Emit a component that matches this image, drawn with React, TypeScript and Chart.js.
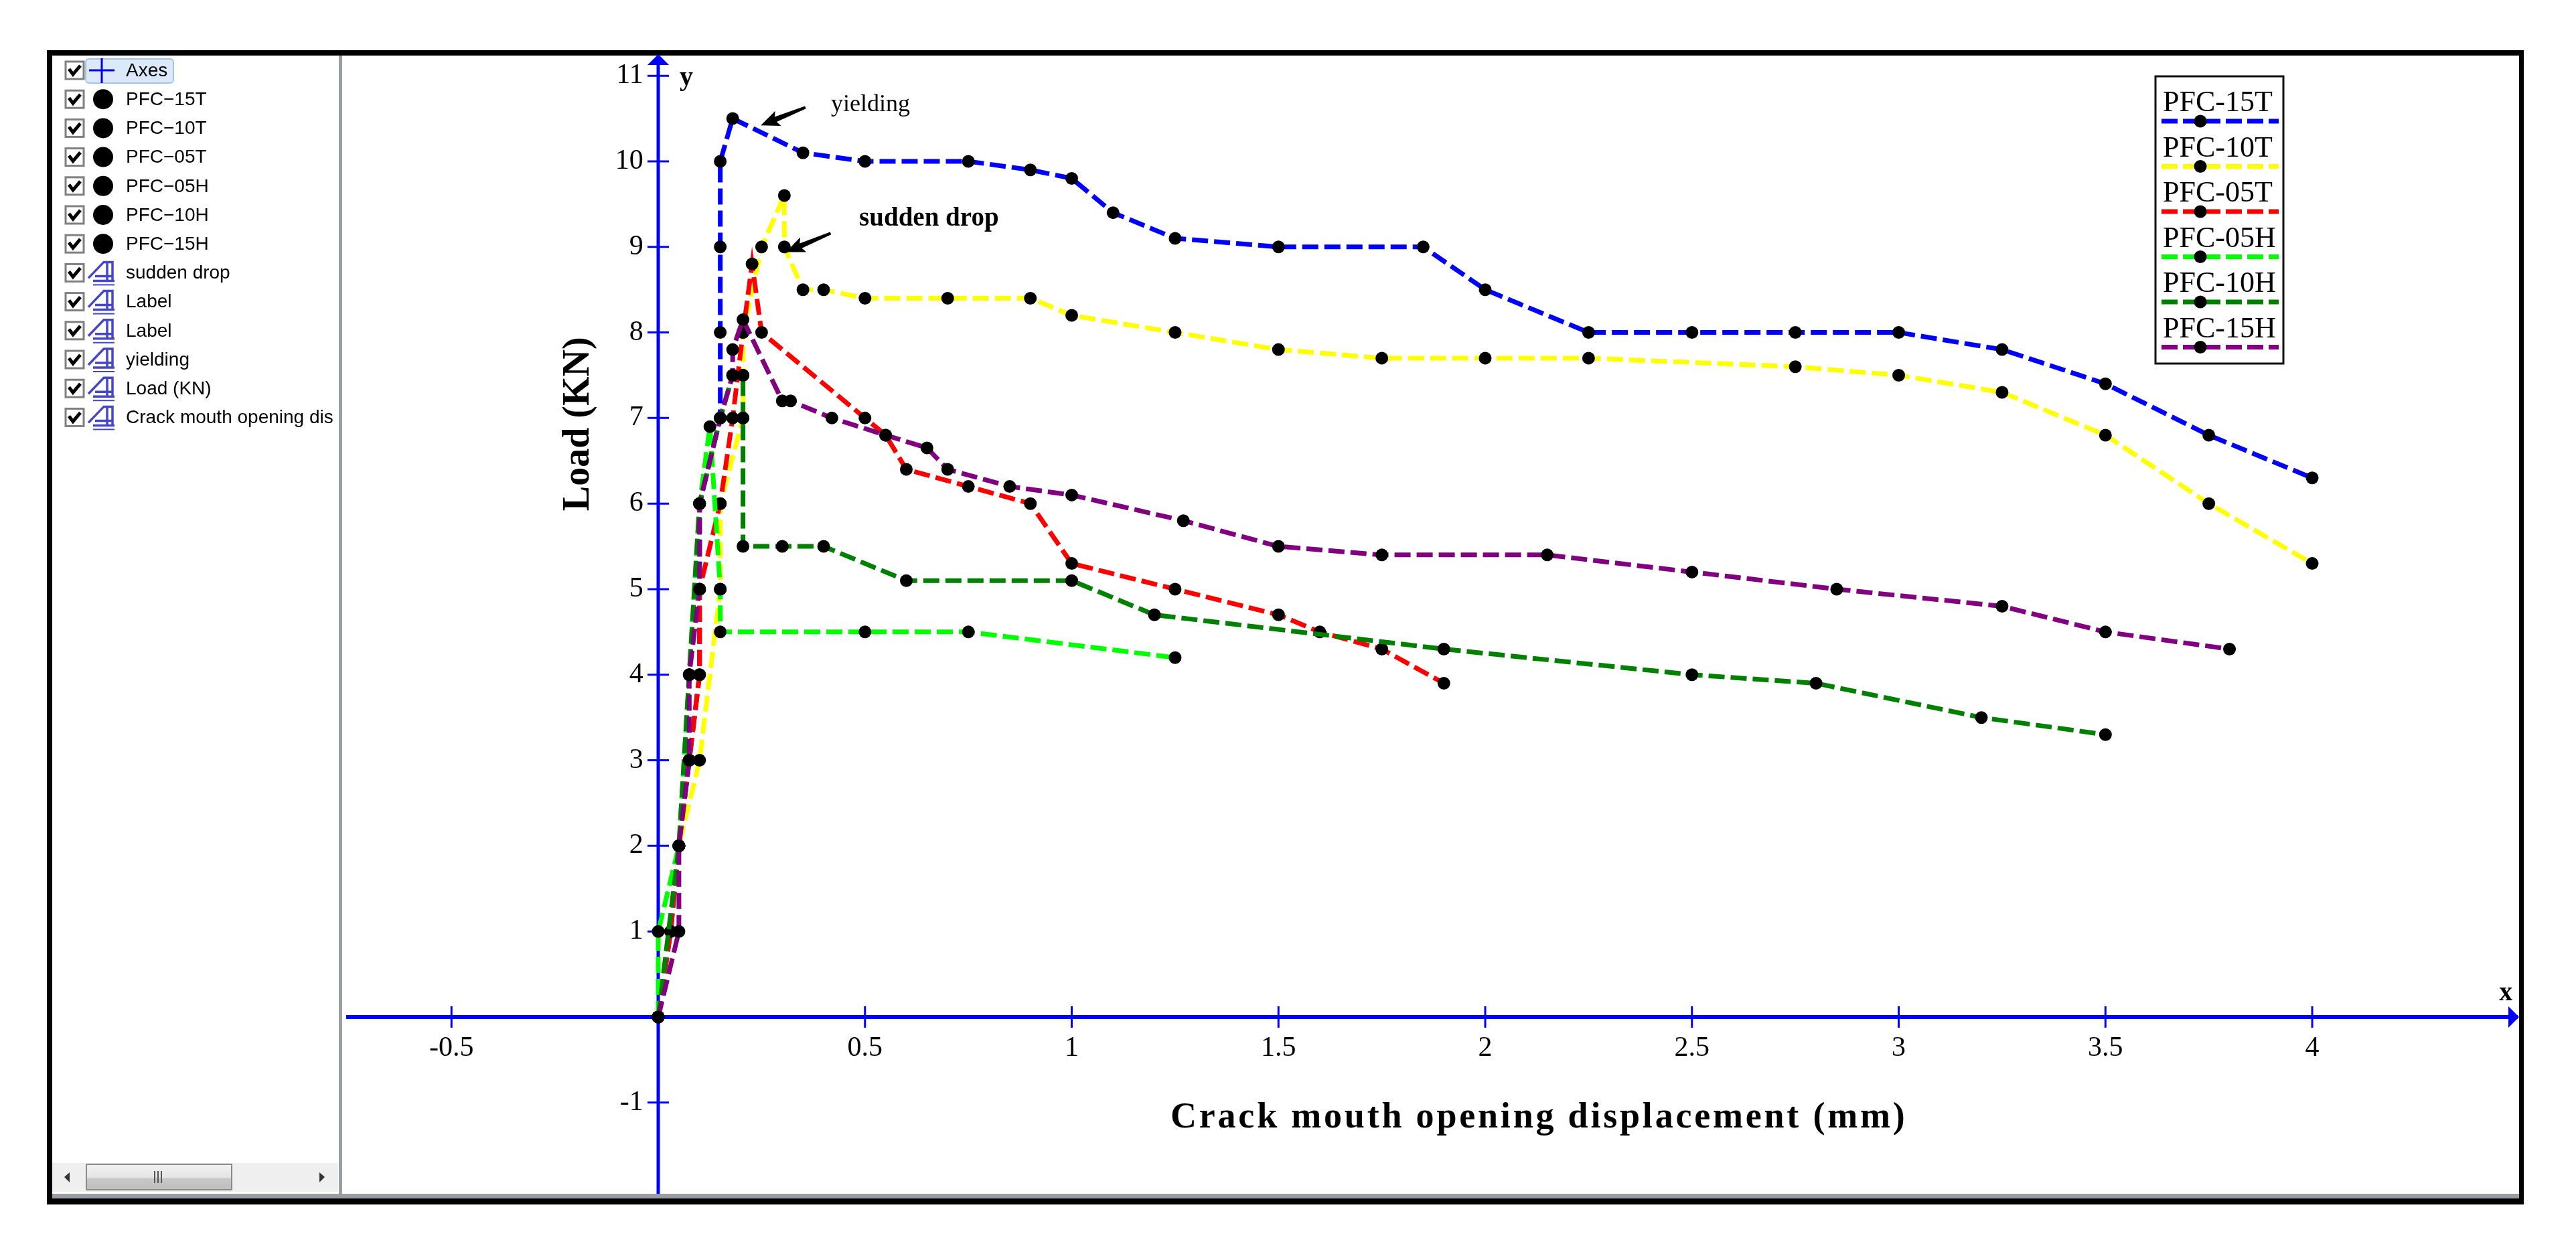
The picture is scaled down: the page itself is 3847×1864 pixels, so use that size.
import React, { useEffect, useRef } from "react";
import { Chart, registerables } from "chart.js";

Chart.register(...registerables);

const xTicks = [-0.5, 0, 0.5, 1, 1.5, 2, 2.5, 3, 3.5, 4];
const yTicks = [-1, 0, 1, 2, 3, 4, 5, 6, 7, 8, 9, 10, 11];

const x15T = [0, 0.03, 0.05, 0.075, 0.1, 0.1, 0.1, 0.15, 0.15, 0.15, 0.15, 0.18, 0.35, 0.5, 0.75, 0.9, 1, 1.1, 1.25, 1.5, 1.85, 2, 2.25, 2.5, 2.75, 3, 3.25, 3.5, 3.75, 4];
const y15T = [0, 1, 2, 3, 4, 5, 6, 7, 8, 9, 10, 10.5, 10.1, 10, 10, 9.9, 9.8, 9.4, 9.1, 9, 9, 8.5, 8, 8, 8, 8, 7.8, 7.4, 6.8, 6.3];
const x10T = [0, 0.05, 0.1, 0.15, 0.15, 0.205, 0.205, 0.205, 0.25, 0.305, 0.305, 0.35, 0.4, 0.5, 0.7, 0.9, 1, 1.25, 1.5, 1.75, 2, 2.25, 2.75, 3, 3.25, 3.5, 3.75, 4];
const y10T = [0, 2, 3, 5, 6, 7, 7.5, 8, 9, 9.6, 9, 8.5, 8.5, 8.4, 8.4, 8.4, 8.2, 8, 7.8, 7.7, 7.7, 7.7, 7.6, 7.5, 7.3, 6.8, 6, 5.3];
const x05T = [0, 0.03, 0.05, 0.075, 0.1, 0.1, 0.15, 0.18, 0.205, 0.227, 0.25, 0.5, 0.55, 0.6, 0.75, 0.9, 1, 1.25, 1.5, 1.6, 1.75, 1.9];
const y05T = [0, 1, 2, 3, 4, 5, 6, 7, 8, 8.8, 8, 7, 6.8, 6.4, 6.2, 6, 5.3, 5, 4.7, 4.5, 4.3, 3.9];
const x05H = [0, 0, 0.05, 0.075, 0.1, 0.125, 0.15, 0.15, 0.5, 0.75, 1.25];
const y05H = [0, 1, 2, 4, 6, 6.9, 5, 4.5, 4.5, 4.5, 4.2];
const x10H = [0, 0.05, 0.075, 0.1, 0.15, 0.18, 0.205, 0.205, 0.205, 0.3, 0.4, 0.6, 1, 1.2, 1.9, 2.5, 2.8, 3.2, 3.5];
const y10H = [0, 2, 4, 6, 7, 7.5, 7.5, 7, 5.5, 5.5, 5.5, 5.1, 5.1, 4.7, 4.3, 4, 3.9, 3.5, 3.3];
const x15H = [0, 0.05, 0.05, 0.075, 0.075, 0.1, 0.1, 0.15, 0.18, 0.18, 0.205, 0.3, 0.32, 0.42, 0.55, 0.65, 0.7, 0.85, 1, 1.27, 1.5, 1.75, 2.15, 2.5, 2.85, 3.25, 3.5, 3.8];
const y15H = [0, 1, 2, 3, 4, 5, 6, 7, 7.5, 7.8, 8.15, 7.2, 7.2, 7, 6.8, 6.65, 6.4, 6.2, 6.1, 5.8, 5.5, 5.4, 5.4, 5.2, 5, 4.8, 4.5, 4.3];

const seriesNames = ["PFC-15T", "PFC-10T", "PFC-05T", "PFC-05H", "PFC-10H", "PFC-15H"];
const seriesColors = ["#0000ff", "#ffff00", "#ff0000", "#00ff00", "#008000", "#800080"];
const seriesX = [x15T, x10T, x05T, x05H, x10H, x15H];
const seriesY = [y15T, y10T, y05T, y05H, y10H, y15H];

const treeRows = ["Axes", "PFC\u221215T", "PFC\u221210T", "PFC\u221205T", "PFC\u221205H", "PFC\u221210H", "PFC\u221215H", "sudden drop", "Label", "Label", "yielding", "Load (KN)", "Crack mouth opening dis"];

const xTitle = "Crack mouth opening displacement (mm)";
const yTitle = "Load (KN)";

const SERIF = '"Liberation Serif", serif';
const BLUE = "#0000ff";

function drawArrow(ctx: CanvasRenderingContext2D, x1: number, y1: number, x2: number, y2: number) {
  const a = Math.atan2(y2 - y1, x2 - x1);
  ctx.save();
  ctx.translate(x2, y2);
  ctx.rotate(a);
  ctx.fillStyle = "#000";
  const len = Math.hypot(x2 - x1, y2 - y1);
  ctx.beginPath();
  ctx.moveTo(0, 0);
  ctx.lineTo(-28, -12);
  ctx.lineTo(-24, -4);
  ctx.lineTo(-len, -2);
  ctx.lineTo(-len, 2);
  ctx.lineTo(-24, 4);
  ctx.lineTo(-28, 12);
  ctx.closePath();
  ctx.fill();
  ctx.restore();
}

function drawAIcon(ctx: CanvasRenderingContext2D, cx: number, cy: number) {
  ctx.save();
  ctx.strokeStyle = "#4646c8";
  ctx.lineWidth = 3.5;
  ctx.beginPath();
  ctx.moveTo(cx - 21, cy + 8);
  ctx.lineTo(cx + 2, cy - 16);
  ctx.lineTo(cx + 15, cy - 16);
  ctx.lineTo(cx + 15, cy + 12);
  ctx.moveTo(cx - 11, cy + 5);
  ctx.lineTo(cx + 15, cy + 5);
  ctx.moveTo(cx + 7, cy - 16);
  ctx.lineTo(cx + 7, cy + 12);
  ctx.moveTo(cx - 14, cy + 12);
  ctx.lineTo(cx + 18, cy + 12);
  ctx.stroke();
  ctx.lineWidth = 2;
  ctx.beginPath();
  ctx.moveTo(cx - 14, cy + 18);
  ctx.lineTo(cx + 18, cy + 18);
  ctx.stroke();
  ctx.restore();
}

const framePlugin = {
  id: "frame",
  beforeDraw(chart: any) {
    const ctx: CanvasRenderingContext2D = chart.ctx;
    ctx.save();
    ctx.fillStyle = "#fff";
    ctx.fillRect(0, 0, 3847, 1864);
    // Side tree
    ctx.font = '28px "Liberation Sans", sans-serif';
    ctx.textBaseline = "middle";
    treeRows.forEach((label, i) => {
      const y = 105 + 43.2 * i;
      ctx.strokeStyle = "#808080";
      ctx.lineWidth = 3;
      ctx.strokeRect(98, y - 13, 27, 26);
      ctx.strokeStyle = "#000";
      ctx.lineWidth = 5;
      ctx.beginPath();
      ctx.moveTo(103, y - 2);
      ctx.lineTo(109, y + 6);
      ctx.lineTo(120, y - 7);
      ctx.stroke();
      if (i === 0) {
        ctx.fillStyle = "#dbe9fb";
        ctx.strokeStyle = "#a5c3e8";
        ctx.lineWidth = 2;
        ctx.beginPath();
        ctx.roundRect(128, y - 17, 131, 36, 5);
        ctx.fill();
        ctx.stroke();
        ctx.strokeStyle = "#0000e0";
        ctx.lineWidth = 3;
        ctx.beginPath();
        ctx.moveTo(133, y);
        ctx.lineTo(171, y);
        ctx.moveTo(152, y - 18);
        ctx.lineTo(152, y + 19);
        ctx.stroke();
      } else if (i <= 6) {
        ctx.fillStyle = "#000";
        ctx.beginPath();
        ctx.arc(154, y, 15, 0, Math.PI * 2);
        ctx.fill();
      } else {
        drawAIcon(ctx, 153, y);
      }
      ctx.fillStyle = "#000";
      ctx.textAlign = "left";
      ctx.fillText(label, 188, y + 1);
    });
    // Tree scrollbar
    ctx.fillStyle = "#efefef";
    ctx.fillRect(78, 1737, 427, 43);
    const grad = ctx.createLinearGradient(0, 1739, 0, 1778);
    grad.addColorStop(0, "#f2f2f2");
    grad.addColorStop(0.5, "#e4e4e4");
    grad.addColorStop(0.55, "#c8c8c8");
    grad.addColorStop(1, "#bdbdbd");
    ctx.fillStyle = grad;
    ctx.fillRect(129, 1739, 217, 38);
    ctx.strokeStyle = "#8a8a8a";
    ctx.lineWidth = 2;
    ctx.strokeRect(129, 1739, 217, 38);
    ctx.strokeStyle = "#555";
    [231, 236, 241].forEach((gx) => {
      ctx.beginPath();
      ctx.moveTo(gx, 1749);
      ctx.lineTo(gx, 1767);
      ctx.stroke();
    });
    ctx.fillStyle = "#333";
    ctx.beginPath();
    ctx.moveTo(96, 1758);
    ctx.lineTo(104, 1751);
    ctx.lineTo(104, 1766);
    ctx.closePath();
    ctx.moveTo(485, 1758);
    ctx.lineTo(477, 1751);
    ctx.lineTo(477, 1766);
    ctx.closePath();
    ctx.fill();
    // Separators and outer frame
    ctx.fillStyle = "#9a9ea2";
    ctx.fillRect(506, 83, 5, 1705);
    ctx.fillRect(78, 1783, 3684, 7);
    ctx.fillStyle = "#000";
    ctx.fillRect(70, 75, 3699, 8);
    ctx.fillRect(70, 1790, 3699, 9);
    ctx.fillRect(70, 75, 8, 1724);
    ctx.fillRect(3762, 75, 7, 1724);
    ctx.restore();
  },
  beforeDatasetsDraw(chart: any) {
    const ctx: CanvasRenderingContext2D = chart.ctx;
    const sx = chart.scales.x;
    const sy = chart.scales.y;
    const ox = sx.getPixelForValue(0);
    const oy = sy.getPixelForValue(0);
    const area = chart.chartArea;
    ctx.save();
    ctx.strokeStyle = BLUE;
    // y axis line, at x = 0
    ctx.lineWidth = 5;
    ctx.beginPath();
    ctx.moveTo(ox, area.top + 10);
    ctx.lineTo(ox, area.bottom);
    ctx.stroke();
    ctx.lineWidth = 3;
    xTicks.filter((v) => v !== 0).forEach((v) => {
      const px = sx.getPixelForValue(v);
      ctx.beginPath();
      ctx.moveTo(px, oy - 16);
      ctx.lineTo(px, oy + 16);
      ctx.stroke();
    });
    yTicks.filter((v) => v !== 0).forEach((v) => {
      const py = sy.getPixelForValue(v);
      ctx.beginPath();
      ctx.moveTo(ox - 16, py);
      ctx.lineTo(ox + 16, py);
      ctx.stroke();
    });
    ctx.fillStyle = BLUE;
    ctx.beginPath();
    ctx.moveTo(area.right + 3, oy);
    ctx.lineTo(area.right - 13, oy - 16);
    ctx.lineTo(area.right - 13, oy + 16);
    ctx.closePath();
    ctx.moveTo(ox, area.top - 2);
    ctx.lineTo(ox - 16, area.top + 14);
    ctx.lineTo(ox + 16, area.top + 14);
    ctx.closePath();
    ctx.fill();
    ctx.restore();
  },
  afterDraw(chart: any) {
    const ctx: CanvasRenderingContext2D = chart.ctx;
    const sx = chart.scales.x;
    const sy = chart.scales.y;
    const px = (v: number) => sx.getPixelForValue(v);
    const py = (v: number) => sy.getPixelForValue(v);
    ctx.save();
    ctx.fillStyle = "#000";
    ctx.textBaseline = "middle";
    // Axis letters
    ctx.textAlign = "left";
    ctx.font = `bold 40px ${SERIF}`;
    ctx.fillText("y", px(0.052), py(10.97));
    ctx.fillText("x", px(4.452), py(0.28));
    // Annotations
    ctx.font = `36px ${SERIF}`;
    ctx.fillText("yielding", px(0.418), py(10.66));
    ctx.font = `bold 39px ${SERIF}`;
    ctx.fillText("sudden drop", px(0.486), py(9.33));
    drawArrow(ctx, px(0.356), py(10.63), px(0.248), py(10.42));
    drawArrow(ctx, px(0.417), py(9.16), px(0.309), py(8.94));
    // Axis titles
    ctx.textAlign = "center";
    ctx.font = `bold 54px ${SERIF}`;
    (ctx as any).letterSpacing = "3.8px";
    ctx.fillText(xTitle, px(2.13), py(-1.18));
    (ctx as any).letterSpacing = "0px";
    ctx.save();
    ctx.translate(px(-0.192), py(6.93));
    ctx.rotate(-Math.PI / 2);
    ctx.font = `bold 56px ${SERIF}`;
    ctx.fillText(yTitle, 0, 0);
    ctx.restore();
    // Legend
    ctx.fillStyle = "#fff";
    ctx.fillRect(3218, 113, 193, 430);
    ctx.strokeStyle = "#111";
    ctx.lineWidth = 3;
    ctx.strokeRect(3219, 114, 191, 429);
    chart.data.datasets.forEach((d: any, i: number) => {
      const ly = 181 + 67.5 * i;
      ctx.fillStyle = "#000";
      ctx.textAlign = "left";
      ctx.textBaseline = "alphabetic";
      ctx.font = `44px ${SERIF}`;
      ctx.fillText(d.label, 3230, ly - 15);
      ctx.strokeStyle = d.borderColor;
      ctx.lineWidth = 7;
      ctx.setLineDash([24, 8]);
      ctx.beginPath();
      ctx.moveTo(3228, ly);
      ctx.lineTo(3403, ly);
      ctx.stroke();
      ctx.setLineDash([]);
      ctx.fillStyle = "#000";
      ctx.beginPath();
      ctx.arc(3286, ly, 9.5, 0, Math.PI * 2);
      ctx.fill();
    });
    ctx.restore();
  },
};

export default function App() {
  const ref = useRef<HTMLCanvasElement | null>(null);
  useEffect(() => {
    if (!ref.current) return;
    const chart = new Chart(ref.current, {
      type: "scatter",
      data: {
        datasets: seriesNames.map((name, i) => ({
          label: name,
          data: seriesX[i].map((x, k) => ({ x, y: seriesY[i][k] })),
          showLine: true,
          borderColor: seriesColors[i],
          backgroundColor: "#000",
          borderWidth: 7,
          borderDash: [24, 9],
          tension: 0,
          pointRadius: 9.5,
          pointBackgroundColor: "#000",
          pointBorderWidth: 0,
          order: seriesNames.length - i,
          clip: false,
        })),
      },
      options: {
        responsive: false,
        animation: false,
        layout: { padding: { left: 520, right: 88, top: 83, bottom: 81 } },
        plugins: { legend: { display: false }, tooltip: { enabled: false } },
        scales: {
          x: {
            type: "linear",
            min: -0.7498,
            max: 4.4955,
            position: { y: 0 },
            afterBuildTicks: (s: any) => { s.ticks = xTicks.map((value) => ({ value })); },
            grid: { display: false, drawTicks: false },
            border: { display: true, color: BLUE, width: 6 },
            ticks: {
              autoSkip: false,
              maxRotation: 0,
              color: "#000",
              padding: 22,
              font: { family: "Liberation Serif", size: 42 },
              callback: (v: any) => (v === 0 ? "" : String(v)),
            },
          },
          y: {
            type: "linear",
            min: -2.066,
            max: 11.236,
            // the library sets y labels flush to this position, so it sits just left of x = 0
            position: { x: -0.036 },
            afterBuildTicks: (s: any) => { s.ticks = yTicks.map((value) => ({ value })); },
            grid: { display: false, drawTicks: false },
            border: { display: false },
            ticks: {
              autoSkip: false,
              color: "#000",
              padding: 0,
              font: { family: "Liberation Serif", size: 42 },
              callback: (v: any) => (v === 0 ? "" : String(v)),
            },
          },
        },
      } as any,
      plugins: [framePlugin],
    });
    return () => chart.destroy();
  }, []);
  return (
    <canvas
      ref={ref}
      width={3847}
      height={1864}
      style={{ position: "absolute", left: 0, top: 0, width: 3847, height: 1864, display: "block" }}
    />
  );
}
